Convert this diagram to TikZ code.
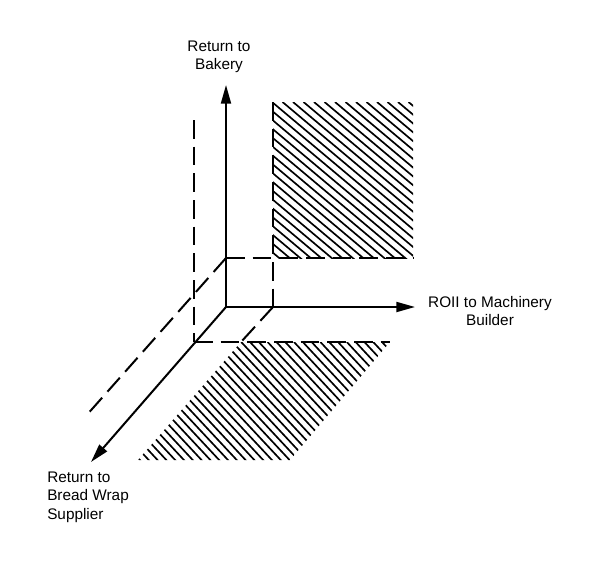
\documentclass[tikz,border=0pt]{standalone}
\usepackage{fontspec}
\setmainfont{Liberation Sans}
\usetikzlibrary{arrows.meta}

\begin{document}
\begin{tikzpicture}[
  x=0.75pt, y=-0.75pt,
  axis/.style={line width=1.5pt, -{Triangle[length=14pt,width=7.5pt]}},
  guide/.style={line width=1.5pt, dash pattern=on 14pt off 6pt},
  hatchline/.style={line width=1.25pt},
  label/.style={font=\fontsize{11.5pt}{13.8pt}\selectfont, inner sep=0pt, align=center}
]
  \useasboundingbox (0,0) rectangle (600,564);

  % Origin and corners
  \coordinate (o) at (226,307);
  \coordinate (a) at (226,258);
  \coordinate (b) at (273,258);
  \coordinate (c) at (273,307);
  \coordinate (ob) at (194,342);
  \coordinate (cb) at (241,342);

  % Axis ends
  \coordinate (t1) at (226,85);
  \coordinate (t2) at (415,307);
  \coordinate (t3) at (91,462);

  % Guide ends
  \coordinate (g1) at (273,102);
  \coordinate (g2) at (413,258);
  \coordinate (g3) at (194,120);
  \coordinate (g4) at (390,342);
  \coordinate (g5) at (85,417);

  % Hatched regions
  \begin{scope}
    \clip (g1) rectangle (g2);
    \foreach \s in {83,93.5,...,425}
      \draw[hatchline] (\s,102) -- ++(200,168);
  \end{scope}
  \begin{scope}
    \clip (cb) -- (g4) -- (290,460) -- (138,460) -- cycle;
    \foreach \s in {30,38.8,...,400}
      \draw[hatchline] (\s,342) -- ++(150,161);
  \end{scope}

  % Dashed guides
  \draw[guide] (a) -- (g2);
  \draw[guide] (g1) -- (c);
  \draw[guide] (c) -- (cb);
  \draw[guide] (g3) -- (ob);
  \draw[guide] (ob) -- (g4);
  \draw[guide] (a) -- (g5);

  % Axes
  \draw[axis] (o) -- (t1);
  \draw[axis] (o) -- (t2);
  \draw[axis] (o) -- (t3);

  % Labels
  \node[label] (bakery) at (219,57) {Return to\\Bakery};
  \node[label] (builder) at (490,311) {ROII to Machinery\\Builder};
  \node[label, align=left, anchor=west] (supplier) at (47,497) {Return to\\Bread Wrap\\Supplier};

\end{tikzpicture}
\end{document}
